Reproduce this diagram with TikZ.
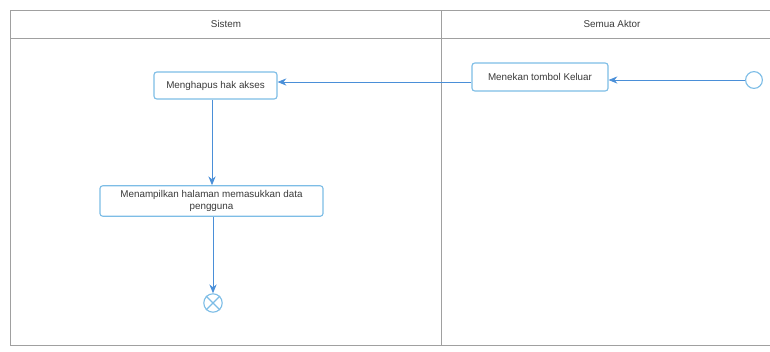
\documentclass[tikz,border=0pt]{standalone}
\usepackage{fontspec}
\setsansfont{Liberation Sans}
\usepackage{tikz}
\usetikzlibrary{positioning, arrows.meta}
\usepackage{xcolor}
\definecolor{LaneGray}{HTML}{A0A0A0}
\definecolor{FlowBlue}{HTML}{4A8FD8}
\definecolor{BoxBlue}{HTML}{7DBDE6}
\definecolor{TextGray}{HTML}{3A3A3A}

\begin{document}
\begin{tikzpicture}[
    x=0.025cm, y=-0.025cm,
    lane/.style={draw=LaneGray, line width=0.6pt},
    act/.style={draw=BoxBlue, thick, rounded corners=2pt, fill=white, minimum height=0.7cm, align=center, text=TextGray, font=\sffamily\fontsize{7}{8.5}\selectfont},
    arr/.style={-{Stealth[length=2.2mm, width=1.8mm]}, FlowBlue, semithick},
    every node/.style={font=\sffamily\fontsize{7}{8.5}\selectfont}
]
\useasboundingbox (0,0) rectangle (770,351);

% Swimlanes
\draw[lane] (770,10) -- (10,10) -- (10,345) -- (770,345);
\draw[lane] (10,38) -- (770,38);
\draw[lane] (441,10) -- (441,345);
\node[text=TextGray] (lane1) at (226,24) {Sistem};
\node[text=TextGray] (lane2) at (612,24) {Semua Aktor};

% Activities
\node[circle, draw=BoxBlue, thick, inner sep=0pt, minimum size=0.42cm] (start) at (754,80) {};
\node[act, minimum width=3.4cm] (keluar) at (540,77) {Menekan tombol Keluar};
\node[act, minimum width=3.075cm, minimum height=0.675cm] (hapus) at (215.5,85.5) {Menghapus hak akses};
\node[act, minimum width=5.575cm] (tampil) at (211.5,201) {Menampilkan halaman memasukkan data\\pengguna};
\node[circle, draw=BoxBlue, thick, inner sep=0pt, minimum size=0.46cm] (end) at (213,303) {};
\draw[BoxBlue, thick] (end.45) -- (end.225) (end.135) -- (end.-45);

% Flows
\draw[arr] (start) -- (start -| keluar.east);
\draw[arr] (keluar.west |- 0,82) -- (hapus.east |- 0,82);
\draw[arr] (hapus.south -| 212,0) -- (tampil.north -| 212,0);
\draw[arr] (tampil.south -| 213,0) -- (end);

\end{tikzpicture}
\end{document}
